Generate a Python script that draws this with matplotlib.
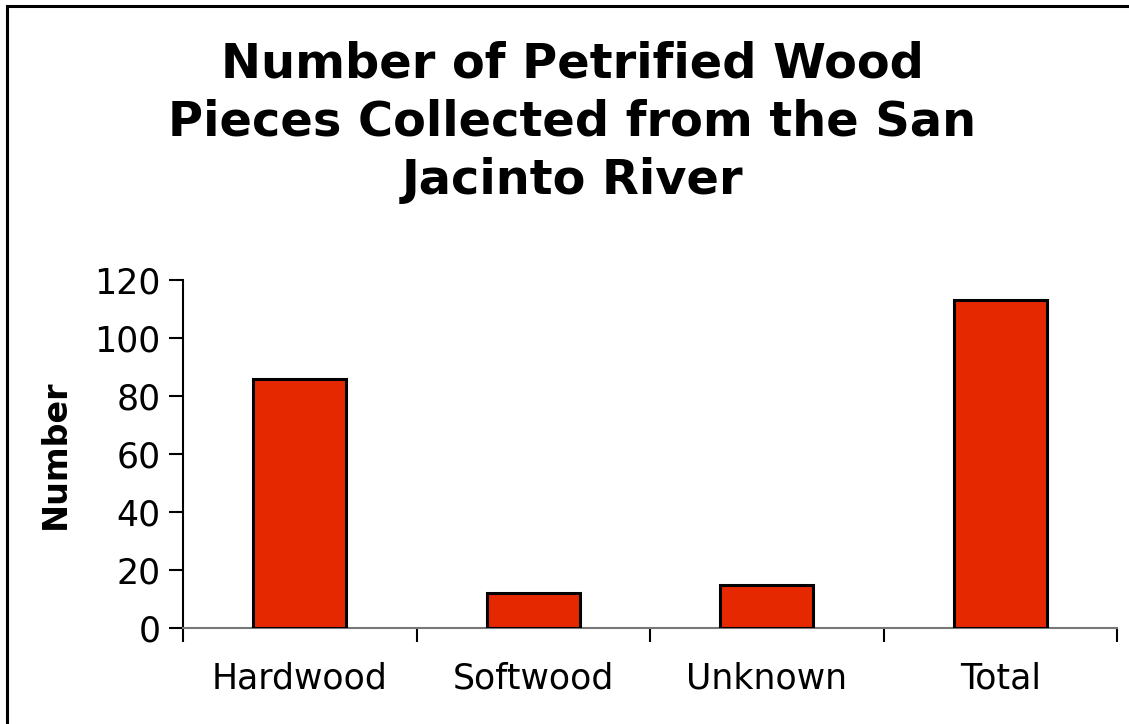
import matplotlib.pyplot as plt
import matplotlib.patches as mpatches
import numpy as np

categories = ['Hardwood', 'Softwood', 'Unknown', 'Total']
counts = [86, 12, 15, 113]
yticks = [0, 20, 40, 60, 80, 100, 120]

fig = plt.figure(figsize=(11.29, 7.24), dpi=100)
ax = fig.add_axes([183/1129, 1 - 628/724, (1117 - 183)/1129, (628 - 280)/724])

x = np.arange(len(categories))
ax.bar(x, counts, width=0.4, color='#E62800', edgecolor='black', linewidth=2.2, zorder=3)

ax.set_xlim(-0.5, len(categories) - 0.5)
ax.set_ylim(0, 120)
ax.set_yticks(yticks)
ax.set_yticklabels([str(v) for v in yticks], fontsize=25)

# category labels centred, tick marks at the boundaries
ax.set_xticks(x)
ax.set_xticklabels(categories, fontsize=25)
ax.tick_params(axis='x', length=0, pad=24)
ax.set_xticks(np.arange(-0.5, len(categories)), minor=True)
ax.tick_params(axis='x', which='minor', length=10, width=1.5, color='black', direction='out')
ax.tick_params(axis='y', length=10, width=1.5, direction='out', pad=6)

for side in ['top', 'right']:
    ax.spines[side].set_visible(False)
ax.spines['left'].set_linewidth(1.5)
ax.spines['bottom'].set_linewidth(1.5)
ax.spines['bottom'].set_color('#777777')

ax.set_ylabel('Number', fontsize=24, fontweight='bold', labelpad=16)

fig.text(0.507, 0.912, 'Number of Petrified Wood', ha='center', va='center', fontsize=34.5, fontweight='bold')
fig.text(0.507, 0.832, 'Pieces Collected from the San', ha='center', va='center', fontsize=34.5, fontweight='bold')
fig.text(0.507, 0.750, 'Jacinto River', ha='center', va='center', fontsize=34.5, fontweight='bold')

# outer chart frame (only left and top edges show in the crop)
frame = mpatches.Rectangle((7/1129, -0.05), 1.2, 1 - 6/724 + 0.05, transform=fig.transFigure,
                           fill=False, edgecolor='black', linewidth=2.2)
fig.patches.append(frame)

fig.savefig('out.png', dpi=100)
